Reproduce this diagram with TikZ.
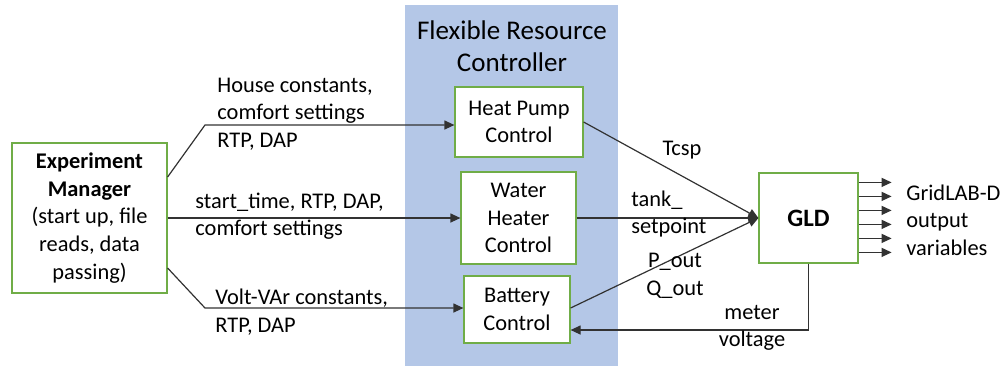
\documentclass[tikz,border=0pt]{standalone}
\usepackage{fontspec}
\setmainfont{Carlito}
\usepackage{xcolor}
\usepackage{tikz}
\usetikzlibrary{positioning,arrows.meta,calc}
\definecolor{bandblue}{RGB}{180,199,231}
\definecolor{boxgreen}{RGB}{112,173,71}
\definecolor{linegray}{RGB}{50,50,50}
\tikzset{
  box/.style   = {draw=boxgreen, fill=white, line width=0.6pt, align=center, inner sep=0pt,
                  font=\fontsize{11.2}{13.8}\selectfont},
  lbl/.style   = {align=left, inner sep=0pt, font=\fontsize{11.2}{13.8}\selectfont},
  flow/.style  = {-{Triangle[length=5pt,width=4.5pt]}, line width=0.6pt, draw=linegray},
}

\begin{document}
\begin{tikzpicture}[x=0.5pt,y=-0.5pt]
  \useasboundingbox (0,0) rectangle (1002,366);
  % controller band
  \fill[bandblue] (405,5) rectangle (618,366);
  \node[align=center, inner sep=0pt, font=\fontsize{13.5}{16}\selectfont] (frc) at (512,46) {Flexible Resource\\Controller};
  % blocks
  \node[box, minimum width=77.5pt, minimum height=75pt] (em) at (89.5,218)
    {\textbf{Experiment}\\\textbf{Manager}\\(start up, file\\reads, data\\passing)};
  \node[box, minimum width=64pt, minimum height=35pt] (hp) at (519,122) {Heat Pump\\Control};
  \node[box, minimum width=57.5pt, minimum height=46pt] (wh) at (518.5,218) {Water\\Heater\\Control};
  \node[box, minimum width=53pt, minimum height=33.5pt] (bat) at (517,309.5) {Battery\\Control};
  \node[box, minimum width=49.5pt, minimum height=45pt, font=\fontsize{12.5}{15}\selectfont\bfseries] (gld) at (808.5,218) {GLD};
  % manager to controllers
  \coordinate (k1) at (205,125);
  \coordinate (k2) at (205,308);
  \draw[flow] ([yshift=20.5pt]em.east) -- (k1) -- (k1 -| hp.west);
  \draw[flow] (em.east) -- (wh.west);
  \draw[flow] ([yshift=-25pt]em.east) -- (k2) -- (k2 -| bat.west);
  \node[lbl, anchor=west] (l1) at (217,114) {House constants,\\comfort settings\\RTP, DAP};
  \node[lbl, anchor=west] (l2) at (195,216) {start\_time, RTP, DAP,\\comfort settings};
  \node[lbl, anchor=west] (l3) at (215,312) {Volt-VAr constants,\\RTP, DAP};
  % controllers to GLD
  \draw[flow] (hp.east) -- (gld.west);
  \draw[flow] (wh.east) -- (gld.west);
  \draw[flow] ([yshift=0.75pt]bat.east) -- (gld.west);
  \draw[flow] (gld.south) |- ([yshift=-10.25pt]bat.east);
  \node[lbl] (l4) at (682,150) {Tcsp};
  \node[lbl, anchor=west] (l5) at (631,214) {tank\_\\setpoint};
  \node[lbl, align=center] (l6) at (675,276) {P\_out\\Q\_out};
  \node[lbl, align=center] (l7) at (752,328) {meter\\voltage};
  % outputs
  \foreach \dy in {5,12,19,26,33,40}
    \draw[flow] ([yshift=-\dy pt]gld.north east) -- ++(33,0);
  \node[lbl, anchor=west] (l8) at (906,220) {GridLAB-D\\output\\variables};
\end{tikzpicture}
\end{document}
